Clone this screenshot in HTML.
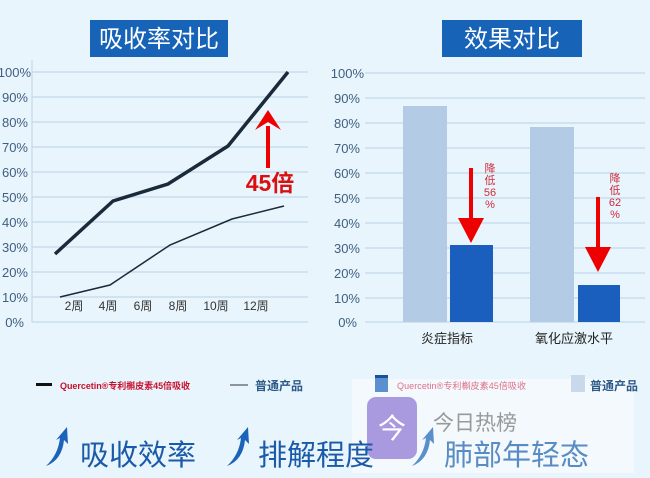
<!DOCTYPE html>
<html><head><meta charset="utf-8"><style>
body{margin:0;width:650px;height:473px;overflow:hidden;background:#e9f5fc;font-family:"Liberation Sans","Noto Sans CJK SC",sans-serif}
</style></head><body>
<svg width="650" height="473" xmlns="http://www.w3.org/2000/svg" font-family="Liberation Sans, Noto Sans CJK SC, sans-serif">
<rect width="650" height="473" fill="#e9f5fc"/>
<rect x="90" y="20" width="138" height="37" fill="#1763b8"/>
<text x="159" y="47" font-size="24" fill="#fff" text-anchor="middle">吸收率对比</text>
<rect x="442" y="20" width="140" height="37" fill="#1763b8"/>
<text x="512" y="47" font-size="24" fill="#fff" text-anchor="middle">效果对比</text>
<g stroke="#c3d8e8" stroke-width="1.2">
<line x1="32" y1="72" x2="308" y2="72"/><line x1="32" y1="97" x2="308" y2="97"/><line x1="32" y1="122" x2="308" y2="122"/><line x1="32" y1="147" x2="308" y2="147"/><line x1="32" y1="172" x2="308" y2="172"/><line x1="32" y1="197" x2="308" y2="197"/><line x1="32" y1="222" x2="308" y2="222"/><line x1="32" y1="247" x2="308" y2="247"/><line x1="32" y1="272" x2="308" y2="272"/><line x1="32" y1="297" x2="308" y2="297"/>
<line x1="32" y1="60" x2="32" y2="322"/><line x1="32" y1="322" x2="308" y2="322"/>
<line x1="365" y1="73" x2="645" y2="73"/><line x1="365" y1="98" x2="645" y2="98"/><line x1="365" y1="123" x2="645" y2="123"/><line x1="365" y1="148" x2="645" y2="148"/><line x1="365" y1="173" x2="645" y2="173"/><line x1="365" y1="198" x2="645" y2="198"/><line x1="365" y1="223" x2="645" y2="223"/><line x1="365" y1="248" x2="645" y2="248"/><line x1="365" y1="273" x2="645" y2="273"/><line x1="365" y1="298" x2="645" y2="298"/><line x1="365" y1="322" x2="645" y2="322"/>
</g>
<g font-size="13" fill="#3f5f80" text-anchor="end">
<text x="31" y="77">100%</text><text x="28" y="102">90%</text><text x="28" y="127">80%</text><text x="28" y="152">70%</text><text x="28" y="177">60%</text><text x="28" y="202">50%</text><text x="28" y="227">40%</text><text x="28" y="252">30%</text><text x="28" y="277">20%</text><text x="28" y="302">10%</text><text x="24" y="327">0%</text>
<text x="364" y="78">100%</text><text x="360" y="103">90%</text><text x="360" y="128">80%</text><text x="360" y="153">70%</text><text x="360" y="178">60%</text><text x="360" y="203">50%</text><text x="360" y="228">40%</text><text x="360" y="253">30%</text><text x="360" y="278">20%</text><text x="360" y="303">10%</text><text x="357" y="327">0%</text>
</g>
<g font-size="12" fill="#333" text-anchor="middle">
<text x="74" y="310">2周</text><text x="108" y="310">4周</text><text x="143" y="310">6周</text><text x="178" y="310">8周</text><text x="216" y="310">10周</text><text x="256" y="310">12周</text>
</g>
<polyline points="55,254 113,201 168,184 228,146 288,72" fill="none" stroke="#1b2a3a" stroke-width="3.5"/>
<polyline points="60,297 110,285 170,245 232,219 284,206" fill="none" stroke="#1b2a3a" stroke-width="1.5"/>
<line x1="268" y1="168" x2="268" y2="126" stroke="#e00" stroke-width="4"/>
<polygon points="255,130 268,110 281,130 268,122" fill="#e00"/>
<text x="270" y="191" font-size="23" font-weight="bold" fill="#d81010" text-anchor="middle">45倍</text>
<rect x="403" y="106" width="44" height="216" fill="#b4cbe6"/>
<rect x="450" y="245" width="43" height="77" fill="#1a5fbe"/>
<rect x="530" y="127" width="44" height="195" fill="#b4cbe6"/>
<rect x="578" y="285" width="42" height="37" fill="#1a5fbe"/>
<line x1="471" y1="168" x2="471" y2="220" stroke="#e00" stroke-width="4"/>
<polygon points="458,218 484,218 471,243" fill="#e00"/>
<line x1="598" y1="197" x2="598" y2="250" stroke="#e00" stroke-width="4"/>
<polygon points="585,247 611,247 598,272" fill="#e00"/>
<g font-size="11" fill="#d02a3a" text-anchor="middle">
<text x="490" y="172">降</text><text x="490" y="184">低</text><text x="490" y="196">56</text><text x="490" y="208">%</text>
<text x="615" y="182">降</text><text x="615" y="194">低</text><text x="615" y="206">62</text><text x="615" y="218">%</text>
</g>
<text x="447" y="343" font-size="13" fill="#222" text-anchor="middle">炎症指标</text>
<text x="574" y="343" font-size="13" fill="#222" text-anchor="middle">氧化应激水平</text>
<rect x="352" y="379" width="282" height="94" fill="#f5f9fc" opacity="0.75"/>
<rect x="36" y="383" width="16" height="3" fill="#111"/>
<text x="60" y="389" font-size="9" fill="#c8102e" font-weight="bold" textLength="130">Quercetin®专利槲皮素45倍吸收</text>
<line x1="230" y1="385" x2="248" y2="385" stroke="#333" stroke-width="1"/>
<text x="255" y="390" font-size="12" fill="#2d5a8a" font-weight="bold">普通产品</text>
<rect x="375" y="375" width="13" height="17" fill="#5c8fd0"/><rect x="375" y="375" width="13" height="3" fill="#1a4fa0"/>
<text x="397" y="389" font-size="9" fill="#e0708a" textLength="129">Quercetin®专利槲皮素45倍吸收</text>
<rect x="571" y="375" width="14" height="17" fill="#c9d9ec"/>
<text x="590" y="390" font-size="12" fill="#2d5a8a" font-weight="bold">普通产品</text>
<rect x="367" y="397" width="50" height="62" rx="9" fill="#a99ae0"/>
<text x="392" y="438" font-size="28" fill="#fff" text-anchor="middle">今</text>
<text x="433" y="430" font-size="21" fill="#999">今日热榜</text>
<g fill="#1a63b8">
<path d="M46 466 Q58 455 60 438 L56 440 L67 427 L68 444 L64 440 Q62 460 46 466Z"/>
<path d="M227 466 Q239 455 241 438 L237 440 L248 427 L249 444 L245 440 Q243 460 227 466Z"/>
<path d="M412 466 Q424 455 426 438 L422 440 L433 427 L434 444 L430 440 Q428 460 412 466Z" opacity="0.7"/>
</g>
<text x="80" y="465" font-size="29" fill="#1a5aa8">吸收效率</text>
<text x="258" y="465" font-size="29" fill="#1a5aa8">排解程度</text>
<text x="444" y="465" font-size="29" fill="#5a8cc4">肺部年轻态</text>
</svg>
</body></html>
